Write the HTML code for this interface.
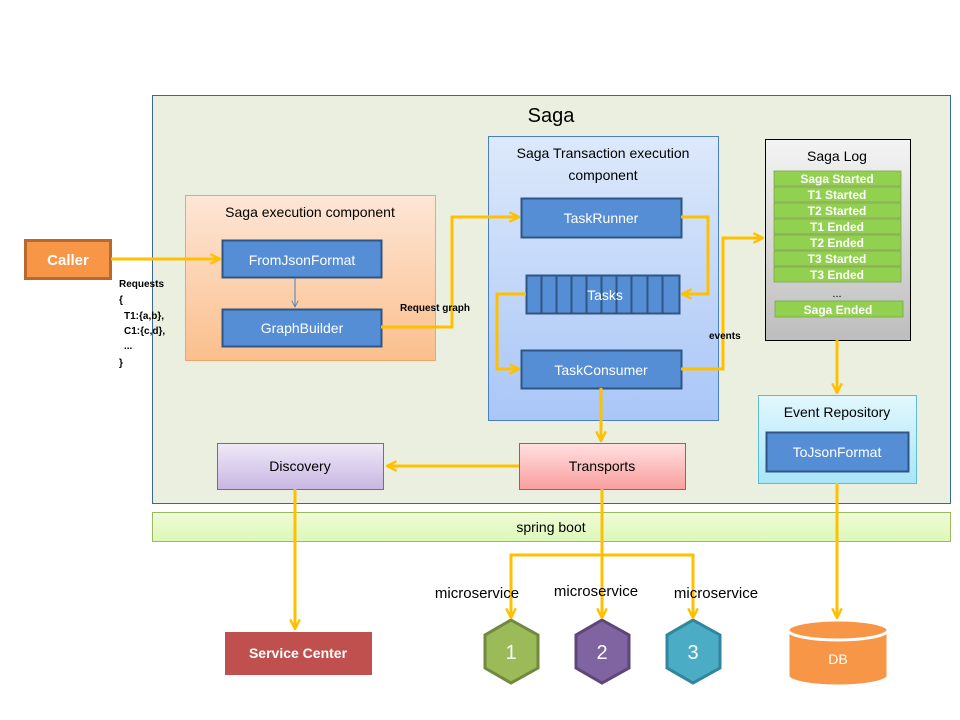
<!DOCTYPE html>
<html><head><meta charset="utf-8"><style>html,body{margin:0;padding:0;background:#fff}svg{display:block}text{font-family:"Liberation Sans",sans-serif}</style></head><body>
<svg width="960" height="720" viewBox="0 0 960 720" xmlns="http://www.w3.org/2000/svg">
<defs>
<linearGradient id="gO" x1="0" y1="0" x2="0" y2="1"><stop offset="0" stop-color="#fde6d6"/><stop offset="1" stop-color="#fbbf8c"/></linearGradient>
<linearGradient id="gB" x1="0" y1="0" x2="0" y2="1"><stop offset="0" stop-color="#dde9fb"/><stop offset="1" stop-color="#a9c6f7"/></linearGradient>
<linearGradient id="gG" x1="0" y1="0" x2="0" y2="1"><stop offset="0" stop-color="#f4f4f4"/><stop offset="1" stop-color="#bdbdbd"/></linearGradient>
<linearGradient id="gC" x1="0" y1="0" x2="0" y2="1"><stop offset="0" stop-color="#e2f7fd"/><stop offset="1" stop-color="#a8e6f8"/></linearGradient>
<linearGradient id="gP" x1="0" y1="0" x2="0" y2="1"><stop offset="0" stop-color="#efe9f8"/><stop offset="1" stop-color="#c8b6e2"/></linearGradient>
<linearGradient id="gR" x1="0" y1="0" x2="0" y2="1"><stop offset="0" stop-color="#ffe0e0"/><stop offset="1" stop-color="#fa9e9e"/></linearGradient>
<linearGradient id="gS" x1="0" y1="0" x2="0" y2="1"><stop offset="0" stop-color="#f0fbd8"/><stop offset="1" stop-color="#dcf8b8"/></linearGradient>
<marker id="ar" viewBox="0 0 10 10" refX="9" refY="5" markerWidth="4" markerHeight="4" orient="auto"><path d="M1,1 L9,5 L1,9" fill="none" stroke="#ffc000" stroke-width="2"/></marker>
<marker id="ab" viewBox="0 0 10 10" refX="9" refY="5" markerWidth="8" markerHeight="8" orient="auto"><path d="M1,1 L9,5 L1,9" fill="none" stroke="#4a7fc1" stroke-width="1"/></marker>
</defs>
<rect x="152.5" y="95.5" width="798" height="408" fill="#ebefdf" stroke="#3a679c"/>
<text x="551" y="122" font-size="20" text-anchor="middle">Saga</text>
<rect x="25.5" y="240.5" width="85" height="38" fill="#f79646" stroke="#b8692e" stroke-width="3"/>
<text x="68" y="265" font-size="15" fill="#fff" font-weight="bold" text-anchor="middle">Caller</text>
<g font-size="10" font-weight="bold">
<text x="119" y="287">Requests</text><text x="119" y="303">{</text><text x="124" y="319">T1:{a,b},</text><text x="124" y="334">C1:{c,d},</text><text x="124" y="349">...</text><text x="119" y="366">}</text>
</g>
<rect x="185.5" y="195.5" width="250" height="165" fill="url(#gO)" stroke="#f2a36a"/>
<text x="310" y="217" font-size="14" text-anchor="middle">Saga execution component</text>
<rect x="222.5" y="240.5" width="159" height="37" fill="#558ed5" stroke="#2f5584" stroke-width="2"/>
<text x="302" y="265" font-size="14" fill="#fff" text-anchor="middle">FromJsonFormat</text>
<rect x="222.5" y="309.5" width="159" height="37" fill="#558ed5" stroke="#2f5584" stroke-width="2"/>
<text x="302" y="333" font-size="14" fill="#fff" text-anchor="middle">GraphBuilder</text>
<line x1="295" y1="278" x2="295" y2="307" stroke="#4a7fc1" marker-end="url(#ab)"/>
<rect x="488.5" y="136.5" width="230" height="284" fill="url(#gB)" stroke="#4a7fc1"/>
<text x="603" y="158" font-size="14" text-anchor="middle">Saga Transaction execution</text>
<text x="603" y="180" font-size="14" text-anchor="middle">component</text>
<rect x="521.5" y="198.5" width="160" height="39" fill="#558ed5" stroke="#2f5584" stroke-width="2"/>
<text x="601" y="223" font-size="14" fill="#fff" text-anchor="middle">TaskRunner</text>
<rect x="526.5" y="275.5" width="153" height="38" fill="#558ed5" stroke="#2f5584" stroke-width="2"/>
<g stroke="#2f5584" stroke-width="2"><line x1="541.5" y1="276" x2="541.5" y2="313"/><line x1="556.5" y1="276" x2="556.5" y2="313"/><line x1="571.5" y1="276" x2="571.5" y2="313"/><line x1="586.5" y1="276" x2="586.5" y2="313"/><line x1="601.5" y1="276" x2="601.5" y2="313"/><line x1="616.5" y1="276" x2="616.5" y2="313"/><line x1="631.5" y1="276" x2="631.5" y2="313"/><line x1="647.5" y1="276" x2="647.5" y2="313"/><line x1="662.5" y1="276" x2="662.5" y2="313"/></g>
<text x="605" y="300" font-size="14" fill="#fff" text-anchor="middle">Tasks</text>
<rect x="521.5" y="350.5" width="160" height="38" fill="#558ed5" stroke="#2f5584" stroke-width="2"/>
<text x="601" y="375" font-size="14" fill="#fff" text-anchor="middle">TaskConsumer</text>
<rect x="765.5" y="139.5" width="145" height="201" fill="url(#gG)" stroke="#000"/>
<text x="837" y="161" font-size="14" text-anchor="middle">Saga Log</text>
<g fill="#92d050" stroke="#7aa83e" stroke-width="0.8">
<rect x="774" y="171" width="127" height="15"/><rect x="774" y="187" width="127" height="15"/><rect x="774" y="203" width="127" height="15"/><rect x="774" y="219" width="127" height="15"/><rect x="774" y="235" width="127" height="15"/><rect x="774" y="251" width="127" height="15"/><rect x="774" y="267" width="127" height="15"/><rect x="775" y="301" width="128" height="16"/>
</g>
<g font-size="12" fill="#fff" font-weight="bold" text-anchor="middle">
<text x="837" y="183">Saga Started</text><text x="837" y="199">T1 Started</text><text x="837" y="215">T2 Started</text><text x="837" y="231">T1 Ended</text><text x="837" y="247">T2 Ended</text><text x="837" y="263">T3 Started</text><text x="837" y="279">T3 Ended</text><text x="838" y="314">Saga Ended</text>
</g>
<text x="837" y="297" font-size="11" text-anchor="middle">...</text>
<rect x="758.5" y="395.5" width="158" height="88" fill="url(#gC)" stroke="#5bbcd8"/>
<text x="837" y="417" font-size="14" text-anchor="middle">Event Repository</text>
<rect x="766.5" y="432.5" width="142" height="39" fill="#558ed5" stroke="#2f5584" stroke-width="2"/>
<text x="837" y="457" font-size="14" fill="#fff" text-anchor="middle">ToJsonFormat</text>
<rect x="217.5" y="443.5" width="166" height="46" fill="url(#gP)" stroke="#8064a2"/>
<text x="300" y="471" font-size="14" text-anchor="middle">Discovery</text>
<rect x="519.5" y="443.5" width="166" height="46" fill="url(#gR)" stroke="#c0504d"/>
<text x="602" y="471" font-size="14" text-anchor="middle">Transports</text>
<rect x="152.5" y="512.5" width="798" height="29" fill="url(#gS)" stroke="#9bbb59"/>
<text x="551" y="532" font-size="14" text-anchor="middle">spring boot</text>
<rect x="223.5" y="630.5" width="150" height="46" fill="#c0504d" stroke="#fff" stroke-width="3"/>
<text x="298" y="658" font-size="14" fill="#fff" font-weight="bold" text-anchor="middle">Service Center</text>
<polygon points="511,620 538,635 538,668 511,683 485,668 485,635" fill="#9bbb59" stroke="#71893f" stroke-width="3"/>
<polygon points="602,620 629,635 629,668 602,683 576,668 576,635" fill="#8064a2" stroke="#5c4776" stroke-width="3"/>
<polygon points="693,620 720,635 720,668 693,683 667,668 667,635" fill="#4bacc6" stroke="#31859c" stroke-width="3"/>
<g font-size="20" fill="#fff" text-anchor="middle"><text x="511" y="659">1</text><text x="602" y="659">2</text><text x="693" y="659">3</text></g>
<path d="M788,630 L788,676 A50,10 0 0 0 888,676 L888,630 Z" fill="#f79646" stroke="#fff" stroke-width="3"/>
<ellipse cx="838" cy="630" rx="50" ry="10" fill="#f79646" stroke="#fff" stroke-width="3"/>
<text x="838" y="664" font-size="14" fill="#fff" text-anchor="middle">DB</text>
<g fill="none" stroke="#ffc000" stroke-width="3" marker-end="url(#ar)">
<path d="M111,259 H220"/>
<path d="M381,327 H452 V217 H519"/>
<path d="M681,217 H708 V294 H682"/>
<path d="M526,294 H497 V369 H519"/>
<path d="M681,369 H723 V238 H763"/>
<path d="M601,388 V441"/>
<path d="M519,466 H387"/>
<path d="M295,489 V629"/>
<path d="M837,340 V393"/>
<path d="M837,483 V618"/>
<path d="M602,489 V555 H511 V618"/>
<path d="M602,555 V618"/>
<path d="M602,555 H693 V618"/>
</g>
<g font-size="15" text-anchor="middle"><text x="477" y="598">microservice</text><text x="596" y="596">microservice</text><text x="716" y="598">microservice</text></g>
<g font-size="10" font-weight="bold">
<text x="400" y="311">Request graph</text><text x="709" y="339">events</text>
</g>
</svg>
</body></html>
